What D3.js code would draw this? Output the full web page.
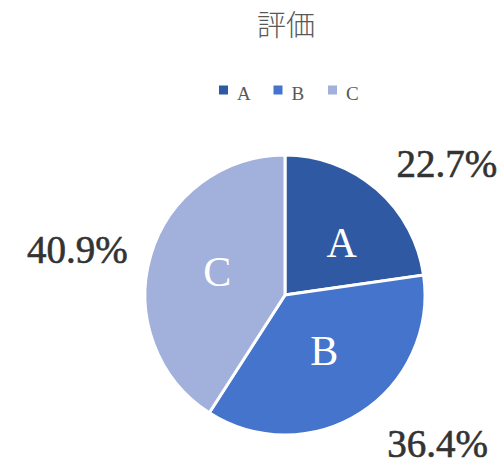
<!DOCTYPE html>
<html>
<head>
<meta charset="utf-8">
<script src="https://cdn.jsdelivr.net/npm/d3@7"></script>
<style>
  body { margin: 0; background: #fff; }
</style>
</head>
<body>
<svg id="chart"></svg>
<script>
// data
const categories = ["A", "B", "C"];
const counts = [5, 8, 9];
const percentLabels = ["22.7%", "36.4%", "40.9%"];
const colors = ["#2F5AA3", "#4474CC", "#A2B0DC"];

const width = 502;
const height = 465;
const cx = 285;
const cy = 295;
const radius = 140;

const svg = d3.select("#chart")
    .attr("width", width)
    .attr("height", height);

// title
svg.append("text")
    .text("評価")
    .attr("x", 286)
    .attr("y", 36)
    .attr("text-anchor", "middle")
    .attr("font-family", "'Noto Sans CJK JP'")
    .attr("font-weight", 300)
    .attr("font-size", 29)
    .attr("fill", "#595959");

// legend
const legendX = d3.scalePoint()
    .domain(categories)
    .range([219, 328]);

const legend = svg.append("g")
    .selectAll("g")
    .data(categories)
    .enter()
    .append("g")
    .attr("transform", d => "translate(" + legendX(d) + ", 90)");

legend.append("rect")
    .attr("x", 0)
    .attr("y", -4.5)
    .attr("width", 9)
    .attr("height", 9)
    .attr("fill", (d, i) => colors[i]);

legend.append("text")
    .text(d => d)
    .attr("x", 18)
    .attr("y", 10)
    .attr("font-family", "'Liberation Serif'")
    .attr("font-size", 19)
    .attr("fill", "#595959");

// pie
const pie = d3.pie().sort(null).value(d => d);
const arcs = pie(counts);
const arc = d3.arc().innerRadius(0).outerRadius(radius);
const labelArc = d3.arc().innerRadius(radius * 0.52).outerRadius(radius * 0.52);

const g = svg.append("g")
    .attr("transform", "translate(" + cx + ", " + cy + ")");

g.selectAll("path")
    .data(arcs)
    .enter()
    .append("path")
    .attr("d", arc)
    .attr("fill", (d, i) => colors[i])
    .attr("stroke", "#fff")
    .attr("stroke-width", 3);

// small nudges so the inner letters sit where the original puts them
const innerOffsets = [[9, 2], [0, -6], [2, -3]];

g.selectAll("text.inner")
    .data(arcs)
    .enter()
    .append("text")
    .attr("class", "inner")
    .text((d, i) => categories[i])
    .attr("transform", (d, i) => {
        const c = labelArc.centroid(d);
        return "translate(" + (c[0] + innerOffsets[i][0]) + ", " + (c[1] + innerOffsets[i][1]) + ")";
    })
    .attr("text-anchor", "middle")
    .attr("dy", "0.35em")
    .attr("font-family", "'Liberation Serif'")
    .attr("font-size", 42)
    .attr("fill", "#fff");

// outside percentage labels
const outerArc = d3.arc().innerRadius(radius * 1.33).outerRadius(radius * 1.33);
const labelOffsets = [[40, 9], [52, -8], [-29, 7]];

g.selectAll("text.pct")
    .data(arcs)
    .enter()
    .append("text")
    .attr("class", "pct")
    .text((d, i) => percentLabels[i])
    .attr("transform", (d, i) => {
        const c = outerArc.centroid(d);
        return "translate(" + (c[0] + labelOffsets[i][0]) + ", " + (c[1] + labelOffsets[i][1]) + ")";
    })
    .attr("text-anchor", "middle")
    .attr("dy", "0.35em")
    .attr("font-family", "'Liberation Serif'")
    .attr("font-size", 39)
    .attr("fill", "#333")
    .attr("stroke", "#333")
    .attr("stroke-width", 0.6);
</script>
</body>
</html>
